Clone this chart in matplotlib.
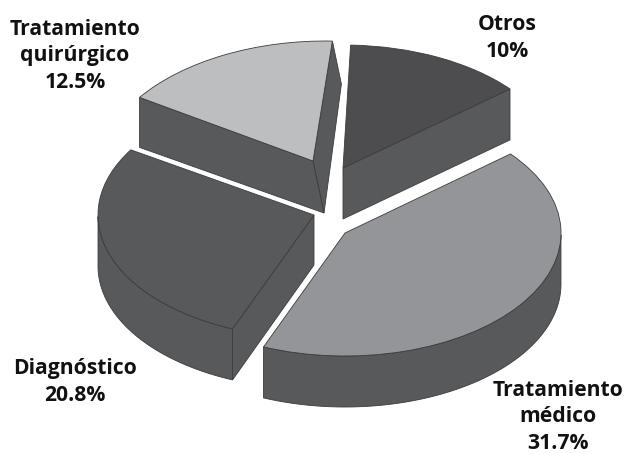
import numpy as np
import matplotlib
matplotlib.use("Agg")
import matplotlib.pyplot as plt
from matplotlib.patches import Polygon
from matplotlib.transforms import Affine2D

# clockwise from the right, the way the slices sit in the picture
names = ["Tratamiento\nmédico", "Diagnóstico", "Tratamiento\nquirúrgico", "Otros"]
percent = [31.7, 20.8, 12.5, 10]
tops = ["#939598", "#58595b", "#bcbec0", "#4d4d4f"]
wall = "#58595b"
edge = "#3c3c3e"

# per slice layout, in pixels: where the tip lands and how the disc is squashed
tips = [(345, 233), (314, 215), (313, 161), (343, 168)]
rx = [216, 216, 212, 218]
ry = [123, 123, 120, 123]
shear = [0, 0, 12, 0]
# how far the bottom sits from the top at the tip and at the two corners
# (a is the corner at wedge.theta1, b the one at wedge.theta2)
depth_tip = [(0, 51), (0, 50), (11, 52), (0, 51)]
depth_a = [(0, 51), (0, 51), (9, 43), (0, 51)]
depth_b = [(0, 51), (0, 51), (0, 50), (0, 51)]

label_pos = [(558, 417), (75, 382), (75, 56), (507, 38)]

fig = plt.figure(figsize=(6.25, 4.54), dpi=100)
ax = fig.add_axes([0, 0, 1, 1])

wedges, _ = ax.pie(percent, startangle=40, counterclock=False, colors=tops,
                   wedgeprops=dict(edgecolor=edge, linewidth=0.6, zorder=3))
ax.set_aspect("auto")
ax.set_xlim(0, 625)
ax.set_ylim(454, 0)
ax.axis("off")


def add_wall(pts, z=2):
    ax.add_patch(Polygon(pts, closed=True, facecolor=wall, edgecolor=edge,
                         linewidth=0.6, zorder=z))


for i, w in enumerate(wedges):
    local = Affine2D(np.array([[rx[i], shear[i], tips[i][0]],
                               [0, -ry[i], tips[i][1]],
                               [0, 0, 1]]))
    w.set_transform(local + ax.transData)

    t = np.radians(np.linspace(w.theta1, w.theta2, 120))
    rim = local.transform(np.column_stack([np.cos(t), np.sin(t)]))
    tip = np.array(tips[i], dtype=float)
    d_tip, d_a, d_b = map(np.array, (depth_tip[i], depth_a[i], depth_b[i]))

    frac = np.linspace(0, 1, 120)[:, None]
    rim_low = rim + d_a * (1 - frac) + d_b * frac

    # only the faces turned towards the viewer get drawn
    if np.sin(t[0] - np.pi / 2) < 0:
        add_wall([tip, rim[0], rim[0] + d_a, tip + d_tip])
    if np.sin(t[-1] + np.pi / 2) < 0:
        add_wall([tip, rim[-1], rim[-1] + d_b, tip + d_tip])
    front = np.sin(t) < 0
    if front.any():
        add_wall(np.vstack([rim[front], rim_low[front][::-1]]))

for name, pct, (x, y) in zip(names, percent, label_pos):
    ax.text(x, y, f"{name}\n{pct}%", ha="center", va="center", color="#111111",
            family="Open Sans", weight="bold", fontsize=15.2, linespacing=1.36)

fig.savefig("out.png", dpi=100, facecolor="white")
